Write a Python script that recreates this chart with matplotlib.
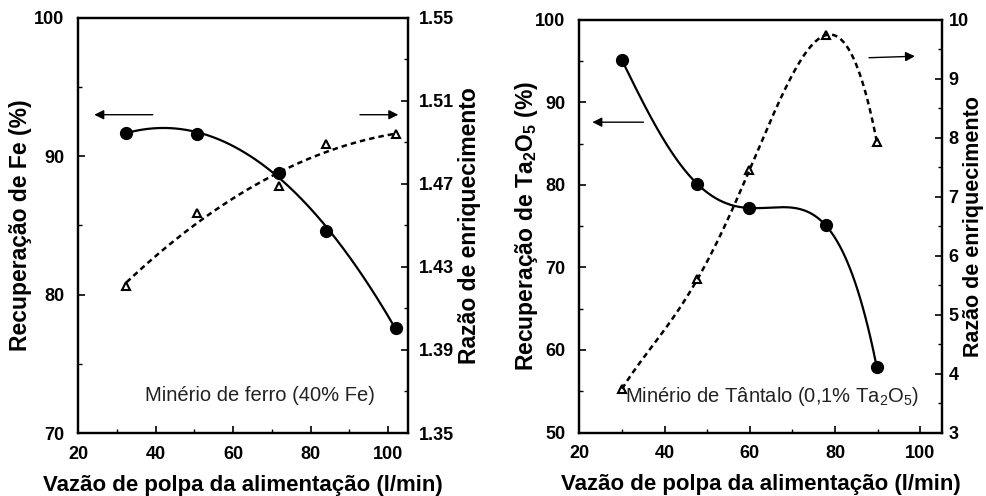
import matplotlib
matplotlib.use("Agg")
import matplotlib.pyplot as plt
import numpy as np
from matplotlib.ticker import MultipleLocator, FormatStrFormatter

plt.rcParams['font.family'] = ['Liberation Sans', 'DejaVu Sans']
plt.rcParams['font.weight'] = 'bold'
plt.rcParams['axes.labelweight'] = 'bold'
plt.rcParams['mathtext.default'] = 'regular'

# minério de ferro
fe_vazao = [32.5, 50.8, 71.9, 83.9, 101.9]
fe_recup = [91.7, 91.6, 88.8, 84.6, 77.6]
fe_razao = [1.421, 1.456, 1.469, 1.489, 1.494]
fe_razao_ticks = [1.35, 1.39, 1.43, 1.47, 1.51, 1.55]

# minério de tântalo
ta_vazao = [30, 47.7, 59.9, 77.8, 89.8]
ta_recup = [95.1, 80.1, 77.2, 75.1, 57.9]
ta_razao = [3.74, 5.60, 7.45, 9.74, 7.93]

xlabel = 'Vazão de polpa da alimentação (l/min)'
ylabel_razao = 'Razão de enriquecimento'


def smooth(x, y, deg):
    """fitted curve through the points, just for the line"""
    c = np.polyfit(x, y, deg)
    xs = np.linspace(min(x), max(x), 200)
    return xs, np.polyval(c, xs)


def style_axes(ax, axr, rpad=8):
    for a in (ax, axr):
        for s in a.spines.values():
            s.set_linewidth(1.6)
        a.tick_params(direction='in', which='major', length=5, width=1.2,
                      labelsize=13)
        a.tick_params(direction='in', which='minor', length=3, width=1.0)
    ax.tick_params(axis='x', pad=9)
    ax.tick_params(axis='y', pad=10)
    axr.tick_params(axis='y', pad=rpad)
    ax.xaxis.set_major_locator(MultipleLocator(20))
    ax.xaxis.set_minor_locator(MultipleLocator(10))
    ax.set_xlim(20, 105)
    ax.set_xlabel(xlabel, fontsize=16, fontweight='bold')
    ax.xaxis.set_label_coords(0.5, -0.1)


fig = plt.figure(figsize=(9.87, 4.96), dpi=100)

# painel esquerdo
ax1 = fig.add_axes([0.079, 0.127, 0.334, 0.837])
ax1r = ax1.twinx()
ax1.set_ylim(70, 100)
ax1.yaxis.set_major_locator(MultipleLocator(10))
ax1.yaxis.set_minor_locator(MultipleLocator(5))
ax1r.set_ylim(1.35, 1.55)
ax1r.set_yticks(fe_razao_ticks)
ax1r.set_yticks(np.array(fe_razao_ticks[:-1]) + 0.02, minor=True)
ax1r.yaxis.set_major_formatter(FormatStrFormatter('%.2f'))

xs, ys = smooth(fe_vazao, fe_recup, 2)
ax1.plot(xs, ys, color='black', lw=1.6)
ax1.plot(fe_vazao, fe_recup, 'o', color='black', ms=8.5)
xs, ys = smooth(fe_vazao, fe_razao, 2)
ax1r.plot(xs, ys, color='black', lw=1.8, ls=(0, (2.2, 1.6)))
ax1r.plot(fe_vazao, fe_razao, '^', mfc='none', mec='black', mew=1.5, ms=6)

ax1.annotate('', xy=(23.5, 93.0), xytext=(40, 93.0),
             arrowprops=dict(arrowstyle='-|>', color='black', lw=1.0,
                             mutation_scale=14))
ax1.annotate('', xy=(103.3, 93.0), xytext=(92, 93.0),
             arrowprops=dict(arrowstyle='-|>', color='black', lw=1.0,
                             mutation_scale=14))
ax1.text(37.2, 72.7, 'Minério de ferro (40% Fe)', fontsize=14.5,
         fontweight='normal', va='center', color='#222222')

ax1.set_ylabel('Recuperação de Fe (%)', fontsize=16.5, fontweight='bold')
ax1.yaxis.set_label_coords(-0.14, 0.5)
ax1r.set_ylabel(ylabel_razao, fontsize=16.5, fontweight='bold')
ax1r.yaxis.set_label_coords(1.152, 0.5)
style_axes(ax1, ax1r)

# painel direito
ax2 = fig.add_axes([0.587, 0.128, 0.367, 0.832])
ax2r = ax2.twinx()
ax2.set_ylim(50, 100)
ax2.yaxis.set_major_locator(MultipleLocator(10))
ax2.yaxis.set_minor_locator(MultipleLocator(5))
ax2r.set_ylim(3, 10)
ax2r.yaxis.set_major_locator(MultipleLocator(1))
ax2r.yaxis.set_minor_locator(MultipleLocator(0.5))

xs, ys = smooth(ta_vazao, ta_recup, 4)
ax2.plot(xs, ys, color='black', lw=1.6)
ax2.plot(ta_vazao, ta_recup, 'o', color='black', ms=8.5)
xs, ys = smooth(ta_vazao, ta_razao, 4)
ax2r.plot(xs, ys, color='black', lw=1.8, ls=(0, (2.2, 1.6)))
ax2r.plot(ta_vazao, ta_razao, '^', mfc='none', mec='black', mew=1.5, ms=6)

ax2.annotate('', xy=(22.4, 87.6), xytext=(35.7, 87.6),
             arrowprops=dict(arrowstyle='-|>', color='black', lw=1.0,
                             mutation_scale=14))
ax2.annotate('', xy=(99.4, 95.6), xytext=(87.3, 95.4),
             arrowprops=dict(arrowstyle='-|>', color='black', lw=1.0,
                             mutation_scale=14))
ax2.text(30.7, 54.4, 'Minério de Tântalo (0,1% Ta$_2$O$_5$)', fontsize=14.5,
         fontweight='normal', va='center', color='#222222')

ax2.set_ylabel('Recuperação de Ta$_2$O$_5$ (%)', fontsize=16.5,
               fontweight='bold')
ax2.yaxis.set_label_coords(-0.108, 0.5)
ax2r.set_ylabel(ylabel_razao, fontsize=15.5, fontweight='bold')
ax2r.yaxis.set_label_coords(1.06, 0.5)
style_axes(ax2, ax2r, rpad=5)

fig.savefig('out.png', dpi=100)
